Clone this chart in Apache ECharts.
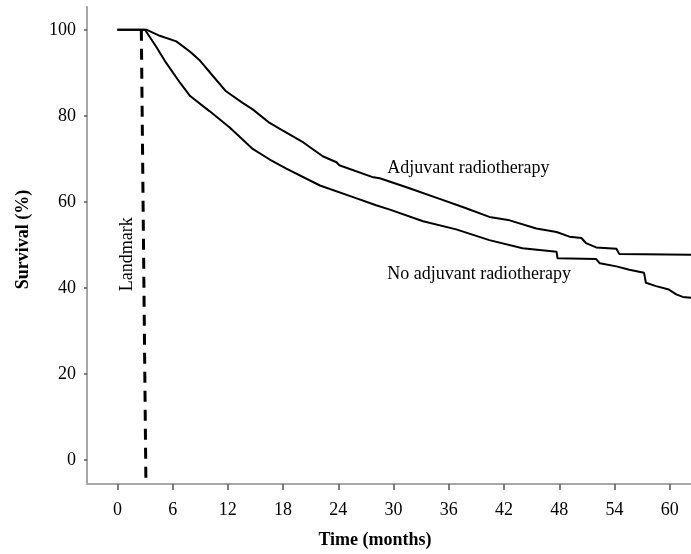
<!DOCTYPE html>
<html>
<head>
<meta charset="utf-8">
<script src="https://cdn.jsdelivr.net/npm/echarts@6/dist/echarts.min.js"></script>
<style>
  html, body { margin: 0; padding: 0; background: #fff; }
  #chart { width: 691px; height: 554px; }
</style>
</head>
<body>
<div id="chart"></div>
<script>
// Kaplan-Meier curves (months, survival %)
var adjMonths = [0, 3.2, 4.6, 6.4, 7.9, 8.9, 10.4, 11.8, 13.6, 14.7, 16.5, 17.6, 20.2, 22.3, 23.8, 24.1,
  27.8, 28.5, 31.4, 35.0, 37.5, 40.4, 42.6, 45.5, 47.7, 49.1, 50.4, 50.9, 52.0, 54.2, 54.5, 62.3];
var adjSurv = [100, 100, 98.6, 97.3, 94.9, 93.0, 89.2, 85.7, 83.0, 81.5, 78.4, 77.0, 73.8, 70.6, 69.2, 68.5,
  65.7, 65.5, 63.4, 60.7, 58.8, 56.5, 55.7, 53.8, 53.0, 51.9, 51.6, 50.4, 49.4, 49.1, 47.9, 47.7];

var noAdjMonths = [0, 3.0, 4.2, 5.3, 6.8, 7.9, 10.0, 11.1, 12.2, 14.7, 16.5, 18.35, 22.0, 25.6, 28.1, 29.6,
  33.2, 36.8, 40.4, 44.0, 47.7, 47.8, 52.0, 52.4, 54.2, 55.6, 57.2, 57.4, 58.5, 59.9, 60.7, 61.4, 62.3];
var noAdjSurv = [100, 100, 96.1, 92.3, 87.7, 84.6, 81.1, 79.2, 77.3, 72.3, 69.9, 67.7, 63.8, 61.1, 59.2, 58.2,
  55.5, 53.6, 51.1, 49.2, 48.4, 46.9, 46.7, 45.7, 45.0, 44.2, 43.5, 41.2, 40.4, 39.6, 38.5, 37.9, 37.7];

var xTicks = [0, 6, 12, 18, 24, 30, 36, 42, 48, 54, 60];
var yTicks = [0, 20, 40, 60, 80, 100];

var landmarkMonth = 3;

function pairs(xs, ys) {
  return xs.map(function (x, i) { return [x, ys[i]]; });
}

var serif = "Liberation Serif";
var axisGray = "#a6a6a6";
var fs = 18;

var chart = echarts.init(document.getElementById("chart"));
chart.setOption({
  animation: false,
  grid: { left: 87, right: 0, top: 7, bottom: 66 },
  xAxis: {
    type: "value",
    min: -3.3,
    max: 62.3,
    name: "Time (months)",
    nameLocation: "middle",
    nameGap: 47,
    nameTextStyle: { fontFamily: serif, fontWeight: "bold", fontSize: fs, color: "#000", padding: [0, 28, 0, 0] },
    axisLine: { onZero: false, lineStyle: { color: axisGray, width: 2 } },
    axisTick: { customValues: xTicks, length: 6, lineStyle: { color: "#555", width: 1.5 } },
    axisLabel: { customValues: xTicks, fontFamily: serif, fontSize: fs, color: "#000", margin: 17 },
    splitLine: { show: false }
  },
  yAxis: {
    type: "value",
    min: -5.6,
    max: 105.3,
    name: "Survival (%)",
    nameLocation: "middle",
    nameRotate: 90,
    nameGap: 55,
    nameTextStyle: { fontFamily: serif, fontWeight: "bold", fontSize: fs, color: "#000", padding: [0, 0, 0, 12] },
    axisLine: { show: true, onZero: false, lineStyle: { color: axisGray, width: 2 } },
    axisTick: { customValues: yTicks, length: 3, lineStyle: { color: "#555", width: 1.5 } },
    axisLabel: { customValues: yTicks, fontFamily: serif, fontSize: fs, color: "#000", margin: 11 },
    splitLine: { show: false }
  },
  series: [
    {
      name: "Adjuvant radiotherapy",
      type: "line",
      data: pairs(adjMonths, adjSurv),
      showSymbol: false,
      lineStyle: { color: "#000", width: 2 },
      markPoint: {
        symbolSize: 0,
        label: { show: true, position: "right", distance: 0, formatter: "Adjuvant radiotherapy",
          fontFamily: serif, fontSize: fs, color: "#000" },
        data: [{ coord: [29.3, 67.9] }]
      }
    },
    {
      name: "No adjuvant radiotherapy",
      type: "line",
      data: pairs(noAdjMonths, noAdjSurv),
      showSymbol: false,
      lineStyle: { color: "#000", width: 2 },
      markPoint: {
        symbolSize: 0,
        label: { show: true, position: "right", distance: 0, formatter: "No adjuvant radiotherapy",
          fontFamily: serif, fontSize: fs, color: "#000" },
        data: [{ coord: [29.3, 43.1] }]
      },
      markLine: {
        silent: true,
        symbol: "none",
        label: { show: false },
        lineStyle: { color: "#000", width: 3, type: [11, 8] },
        data: [[{ coord: [landmarkMonth - 0.4, 100] }, { coord: [landmarkMonth + 0.1, -5.6] }]]
      }
    },
    {
      name: "Landmark",
      type: "line",
      data: [],
      markPoint: {
        symbolSize: 0,
        label: { show: true, position: "inside", rotate: 90, formatter: "Landmark",
          fontFamily: serif, fontSize: fs, color: "#000" },
        data: [{ coord: [1.1, 47.8] }]
      }
    }
  ]
});
</script>
</body>
</html>
